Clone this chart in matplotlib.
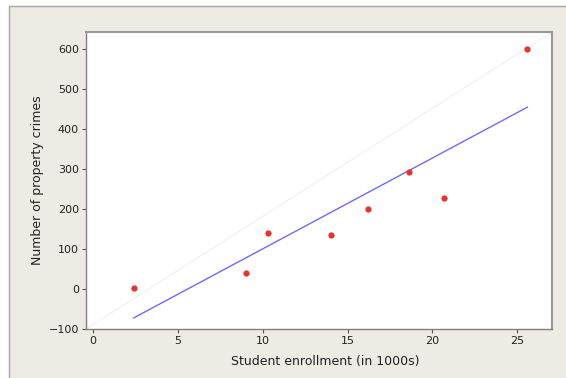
import numpy as np
import matplotlib
matplotlib.use("Agg")
import matplotlib.pyplot as plt
from matplotlib.patches import Rectangle

enrollment = [2.4, 9.0, 10.3, 14.0, 16.2, 18.6, 20.7, 25.6]
crimes = [3, 40, 140, 135, 200, 292, 228, 600]
xticks = [0, 5, 10, 15, 20, 25]
yticks = [-100, 0, 100, 200, 300, 400, 500, 600]

plt.rcParams['font.family'] = ['DejaVu Sans']

fig = plt.figure(figsize=(5.66, 3.78), dpi=100)
fig.patch.set_facecolor('white')
bg = Rectangle((9/566, -0.01), 1, 1 - 6/378 + 0.01, transform=fig.transFigure,
               facecolor='#eeebe4', edgecolor='#a8a8a8', linewidth=1, zorder=-10)
fig.add_artist(bg)

ax = fig.add_axes([86/566, (378-329)/378, (552-86)/566, (329-32)/378])
ax.set_zorder(5)
ax.set_facecolor('white')
ax.set_xlim(-0.41, 27.05)
ax.set_ylim(-100, 642.5)

# faint diagonal
ax.plot([0, 1], [0, 1], transform=ax.transAxes, color='#f5f3f0', lw=1, zorder=1)

x = np.array(enrollment)
y = np.array(crimes)
b, a = np.polyfit(x, y, 1)
xs = np.array([x.min(), x.max()])
ax.plot(xs, a + b * xs, color='#6b6bff', lw=1, zorder=2)
ax.plot(x, y, 'o', color='#e8322e', markersize=4.5, markeredgewidth=0, zorder=3)

ax.set_xticks(xticks)
ax.set_yticks(yticks)
ax.tick_params(direction='out', length=3, width=0.8, color='#555555',
               labelsize=8, labelcolor='#222222', pad=2)
for side in ['left', 'bottom']:
    ax.spines[side].set_color('#808080')
    ax.spines[side].set_linewidth(1)
for side in ['top', 'right']:
    ax.spines[side].set_color('#9a9a9a')
    ax.spines[side].set_linewidth(1.5)

ax.set_xlabel('Student enrollment (in 1000s)', fontsize=9, color='#222222')
ax.set_ylabel('Number of property crimes', fontsize=9, color='#222222')
ax.xaxis.set_label_coords((325-86)/466, -(355-329)/297)
ax.yaxis.set_label_coords(-(86-44)/466, (329-180)/297)

fig.savefig('out.png', dpi=100, facecolor=fig.get_facecolor())
